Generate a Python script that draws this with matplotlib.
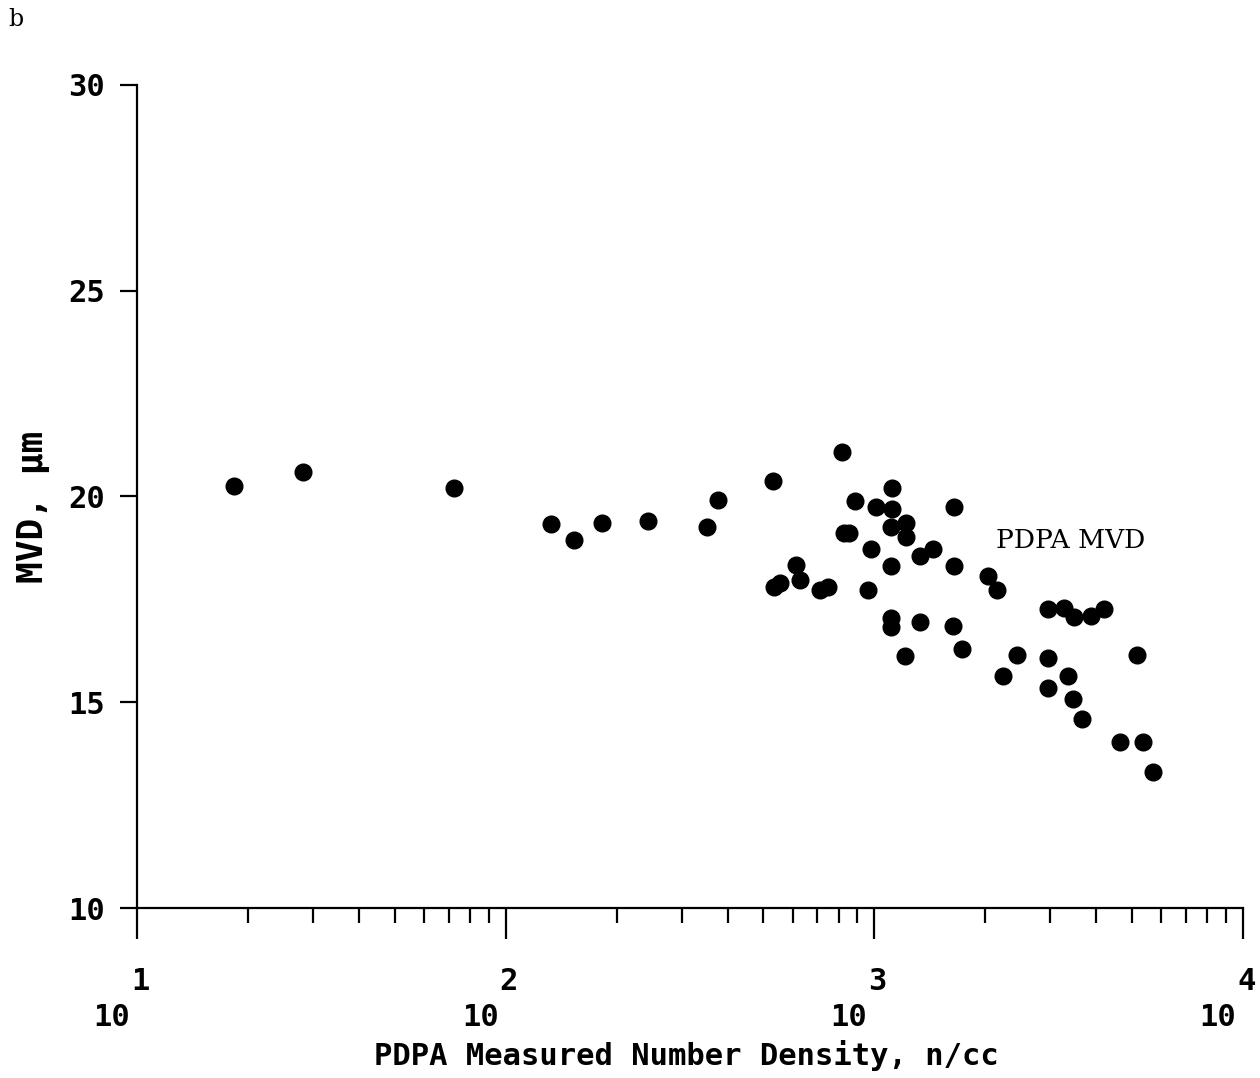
import numpy as np
import matplotlib
matplotlib.use("Agg")
import matplotlib.pyplot as plt
from matplotlib.ticker import FixedLocator, NullFormatter

# number density (n/cc) and PDPA MVD (um)
density = [18.3, 28.2, 72.6, 132.8, 152.9, 182.6, 243.8, 350.8, 375.8,
           530.6, 532.9, 555.4, 611.7, 627.3, 714.1, 749.3, 814.7, 826.9,
           853.1, 886.0, 963.1, 979.5, 1008, 1113, 1113, 1113, 1120, 1120,
           1113, 1222, 1222, 1214, 1332, 1332, 1441, 1641, 1641, 1637, 1728,
           2034, 2154, 2236, 2438, 2954, 2954, 2954, 3276, 3358, 3449, 3486,
           3647, 3879, 4185, 4651, 5158, 5352, 5684]
mvd = [20.26, 20.59, 20.20, 19.33, 18.94, 19.35, 19.41, 19.25, 19.91,
       20.38, 17.81, 17.89, 18.34, 17.97, 17.73, 17.81, 21.09, 19.11,
       19.11, 19.90, 17.73, 18.72, 19.75, 18.31, 17.04, 16.82, 20.21, 19.69,
       19.27, 19.36, 19.01, 16.12, 18.55, 16.94, 18.72, 19.75, 18.31, 16.86, 16.29,
       18.07, 17.73, 15.65, 16.15, 17.26, 16.07, 15.34, 17.28, 15.65, 15.08, 17.08,
       14.59, 17.10, 17.27, 14.04, 16.15, 14.04, 13.31]

yticks = [10, 15, 20, 25, 30]
xdecades = [1, 2, 3, 4]
series_label = "PDPA MVD"

tickfont = dict(family="DejaVu Sans Mono", weight="bold", size=22)

fig = plt.figure(figsize=(12.6, 10.78), dpi=100)
ax = fig.add_axes([137/1260, 1-908/1078, (1243-137)/1260, (908-85)/1078])

ax.plot(density, mvd, "o", color="black", markersize=12, clip_on=False)

ax.set_xscale("log")
ax.set_xlim(10, 1e4)
ax.set_ylim(10, 30)

for s in ["top", "right"]:
    ax.spines[s].set_visible(False)
for s in ["left", "bottom"]:
    ax.spines[s].set_linewidth(1.6)

ax.set_yticks(yticks)
ax.set_yticklabels([str(v) for v in yticks], fontdict=tickfont)
ax.tick_params(axis="y", direction="out", length=12, width=1.6, pad=11)

majors = [10.0**d for d in xdecades]
minors = [m*10.0**d for d in xdecades[:-1] for m in range(2, 10)]
ax.xaxis.set_major_locator(FixedLocator(majors))
ax.xaxis.set_minor_locator(FixedLocator(minors))
ax.xaxis.set_major_formatter(NullFormatter())
ax.xaxis.set_minor_formatter(NullFormatter())
ax.tick_params(axis="x", which="major", direction="out", length=22, width=1.6)
ax.tick_params(axis="x", which="minor", direction="out", length=11, width=1.6)

# 10^n labels: big raised exponent sitting over the tick
for d, t in zip(xdecades, majors):
    ax.annotate("10", xy=(t, 0), xycoords=("data", "axes fraction"),
                xytext=(-7, -109), textcoords="offset pixels",
                ha="right", va="center", annotation_clip=False, **tickfont)
    ax.annotate(str(d), xy=(t, 0), xycoords=("data", "axes fraction"),
                xytext=(-6, -73), textcoords="offset pixels",
                ha="left", va="center", annotation_clip=False, **tickfont)

ax.set_xlabel("PDPA Measured Number Density, n/cc", fontdict=tickfont)
ax.xaxis.set_label_coords(0.497, -0.179)
ax.set_ylabel("MVD, \u03bcm", family="DejaVu Sans Mono", weight="bold", size=26)
ax.yaxis.set_label_coords(-0.094, 0.488)
ax.xaxis.label.set_verticalalignment("center")
ax.yaxis.label.set_verticalalignment("center")

ax.text(2140, 18.94, series_label, family="DejaVu Serif", size=19,
        ha="left", va="center")

fig.text(8/1260, 1-20/1078, "b", family="DejaVu Serif", size=17,
         ha="left", va="center")

fig.savefig("out.png", dpi=100)
